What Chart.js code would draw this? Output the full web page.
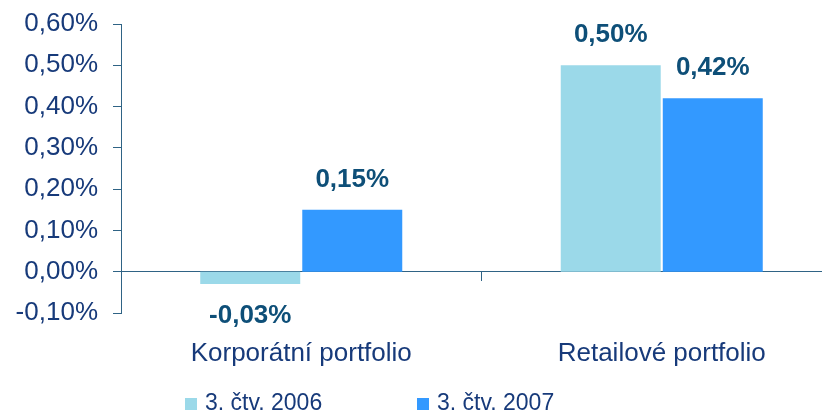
<!DOCTYPE html>
<html><head><meta charset="utf-8">
<script src="https://cdn.jsdelivr.net/npm/chart.js@4.4.1/dist/chart.umd.min.js"></script>
<style>
html,body{margin:0;padding:0;background:#fff;}
#wrap{width:822px;height:411px;overflow:hidden;position:relative;}
canvas{display:block;}
</style></head>
<body>
<div id="wrap"><canvas id="c" width="850" height="411"></canvas></div>
<script>
const categories = ['Korporátní portfolio', 'Retailové portfolio'];
const seriesNames = ['3. čtv. 2006', '3. čtv. 2007'];
const values2006 = [-0.03, 0.50];
const values2007 = [0.15, 0.42];
const yMin = -0.1, yMax = 0.6, yStep = 0.1;

const FONT = "'Liberation Sans', Arial, sans-serif";
const NAVY = '#173a7a';
const LABEL = '#0e4f78';
const AXIS = '#2f6385';
const C1 = '#9bd9e9';
const C2 = '#3399ff';

const fmt = v => v.toFixed(2).replace('.', ',').replace('-0,00', '0,00') + '%';

const dataLabels = {
  id: 'dataLabels',
  afterDatasetsDraw(chart) {
    const ctx = chart.ctx;
    ctx.save();
    ctx.font = 'bold 26px ' + FONT;
    ctx.fillStyle = LABEL;
    ctx.textAlign = 'center';
    ctx.textBaseline = 'middle';
    chart.data.datasets.forEach((ds, i) => {
      chart.getDatasetMeta(i).data.forEach((el, j) => {
        const v = ds.data[j];
        const y = v >= 0 ? el.y - 30 : el.y + 32;
        ctx.fillText(fmt(v), el.x, y);
      });
    });
    ctx.restore();
  }
};

const legendPlugin = {
  id: 'customLegend',
  afterDraw(chart) {
    const ctx = chart.ctx;
    ctx.save();
    ctx.font = '23px ' + FONT;
    ctx.textBaseline = 'alphabetic';
    ctx.textAlign = 'left';
    let x = 185;
    chart.data.datasets.forEach(ds => {
      ctx.fillStyle = ds.backgroundColor;
      ctx.fillRect(x, 398, 12, 12);
      ctx.fillStyle = NAVY;
      ctx.fillText(ds.label, x + 20, 410);
      x += 232;
    });
    ctx.restore();
  }
};

new Chart(document.getElementById('c'), {
  type: 'bar',
  data: {
    labels: categories,
    datasets: [
      { label: seriesNames[0], data: values2006, backgroundColor: C1, xAxisID: 'x' },
      { label: seriesNames[1], data: values2007, backgroundColor: C2, xAxisID: 'x' }
    ]
  },
  options: {
    responsive: false,
    devicePixelRatio: 1,
    animation: false,
    categoryPercentage: 0.566,
    barPercentage: 0.98,
    layout: { padding: { top: 24, right: 8, left: 0, bottom: 0 } },
    plugins: { legend: { display: false }, tooltip: { enabled: false } },
    scales: {
      y: {
        min: yMin, max: yMax,
        ticks: { stepSize: yStep, callback: v => fmt(v), font: { family: FONT, size: 26 }, color: NAVY, padding: 15 },
        grid: { drawOnChartArea: false, drawTicks: true, tickLength: 8, color: AXIS },
        border: { display: true, color: AXIS, width: 1 },
        afterFit(s) { s.width = 121; s.paddingTop = 0; s.paddingBottom = 0; }
      },
      x: {
        position: { y: 0 },
        offset: true,
        ticks: { display: false },
        grid: { offset: true, drawOnChartArea: false, drawTicks: true, tickLength: 9, color: AXIS },
        border: { display: true, color: AXIS, width: 1 },
        afterFit(s) { s.height = 0; s.paddingTop = 0; s.paddingBottom = 0; }
      },
      x2: {
        type: 'category',
        labels: categories,
        position: 'bottom',
        offset: true,
        grid: { display: false, drawTicks: false },
        border: { display: false },
        ticks: { font: { family: FONT, size: 26 }, color: NAVY, padding: 25 },
        afterFit(s) { s.height = 98; }
      }
    }
  },
  plugins: [dataLabels, legendPlugin]
});
</script>
</body></html>
